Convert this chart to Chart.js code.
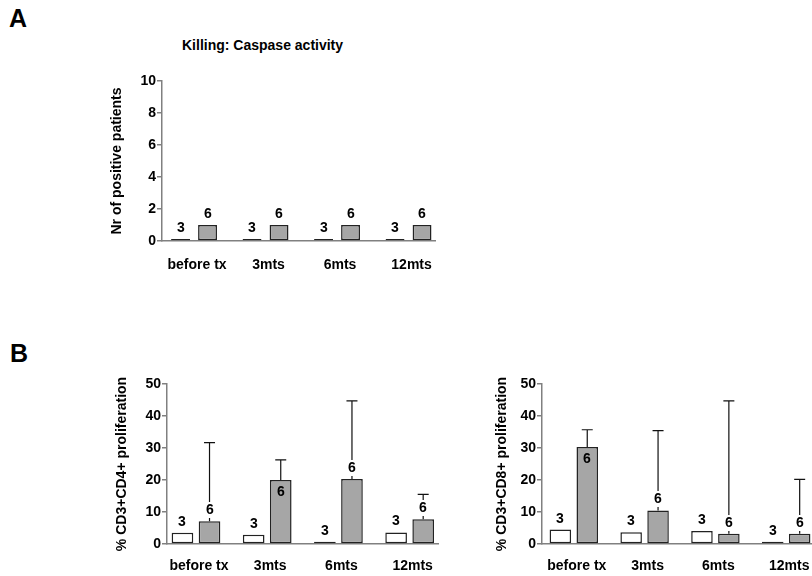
<!DOCTYPE html>
<html>
<head>
<meta charset="utf-8">
<script src="https://cdn.jsdelivr.net/npm/chart.js@4"></script>
<style>
  body { margin: 0; background: #fff; width: 812px; height: 576px; overflow: hidden; position: relative;
         font-family: "Liberation Sans", Arial, sans-serif; }
  canvas { position: absolute; }
  .panel { position: absolute; font-weight: bold; font-size: 25px; line-height: 25px; }
  .title { position: absolute; font-weight: bold; font-size: 14px; line-height: 14px; white-space: nowrap; }
</style>
</head>
<body>
<div class="panel" style="left:9px; top:6px;">A</div>
<div class="panel" style="left:10px; top:341px;">B</div>
<div class="title" style="left:182px; top:38px;">Killing: Caspase activity</div>
<canvas id="chartA" width="460" height="290" style="left:0; top:0;"></canvas>
<canvas id="chartB1" width="450" height="276" style="left:0; top:300px;"></canvas>
<canvas id="chartB2" width="362" height="276" style="left:450px; top:300px;"></canvas>
<script>
// time points
const categories = ['before tx', '3mts', '6mts', '12mts'];

// A: killing (caspase activity), number of positive patients
const killGroup1 = [0, 0, 0, 0];
const killGroup2 = [1, 1, 1, 1];
const killN1 = [3, 3, 3, 3];
const killN2 = [6, 6, 6, 6];

// B: % CD3+CD4+ proliferation
const cd4Group1 = [3.5, 2.9, 0.7, 3.6];
const cd4Group2 = [7.1, 20.0, 20.3, 7.7];
const cd4Group2Sd = [24.6, 6.3, 24.4, 7.8];
const cd4N1 = [3, 3, 3, 3];
const cd4N2 = [6, 6, 6, 6];

// B: % CD3+CD8+ proliferation
const cd8Group1 = [4.5, 3.7, 4.1, 0.7];
const cd8Group2 = [30.3, 10.5, 3.2, 3.2];
const cd8Group2Sd = [5.4, 24.9, 41.5, 17.0];
const cd8N1 = [3, 3, 3, 3];
const cd8N2 = [6, 6, 6, 6];

const FONT = '"Liberation Sans", Arial, sans-serif';
const AXIS = '#808080';
Chart.defaults.font.family = FONT;
Chart.defaults.font.weight = 'bold';
Chart.defaults.color = '#000';

// error bars (upward only) and n labels
const barMarks = {
  id: 'barMarks',
  afterDatasetsDraw(chart) {
    const ctx = chart.ctx;
    const yScale = chart.scales.y;
    chart.data.datasets.forEach((ds, di) => {
      const meta = chart.getDatasetMeta(di);
      meta.data.forEach((bar, i) => {
        const v = ds.data[i].y;
        const sd = ds.sd ? ds.sd[i] : null;
        ctx.save();
        if (sd != null) {
          const yTop = yScale.getPixelForValue(v + sd);
          ctx.strokeStyle = '#111';
          ctx.lineWidth = 1.2;
          ctx.beginPath();
          ctx.moveTo(bar.x, bar.y);
          ctx.lineTo(bar.x, yTop);
          ctx.moveTo(bar.x - 5.5, yTop);
          ctx.lineTo(bar.x + 5.5, yTop);
          ctx.stroke();
        }
        // short error bar on a tall bar: label goes inside the bar
        const inside = sd != null && sd < 7 && v > 15;
        const ty = Math.round(inside ? bar.y + 12 : bar.y - 11);
        ctx.font = 'bold 14px ' + FONT;
        ctx.textAlign = 'center';
        ctx.textBaseline = 'middle';
        if (!inside) {
          ctx.fillStyle = '#fff';
          ctx.fillRect(bar.x - 5, ty - 8, 10, 16);
        }
        ctx.fillStyle = '#000';
        ctx.fillText(String(ds.n[i]), Math.round(bar.x), ty);
        ctx.restore();
      });
    });
  }
};

function points(values) {
  return values.map((v, i) => ({ x: i, y: v }));
}

function makeChart(id, cfg) {
  const ctx = document.getElementById(id).getContext('2d');
  return new Chart(ctx, {
    type: 'bar',
    data: {
      datasets: [
        {
          data: points(cfg.group1),
          n: cfg.n1,
          backgroundColor: '#ffffff',
          borderColor: '#222',
          borderWidth: 1.5,
          borderSkipped: false,
          minBarLength: cfg.minBar || 0,
          categoryPercentage: cfg.catPct,
          barPercentage: cfg.barPct
        },
        {
          data: points(cfg.group2),
          n: cfg.n2,
          sd: cfg.sd,
          backgroundColor: '#a6a6a6',
          borderColor: '#222',
          borderWidth: 1.5,
          borderSkipped: false,
          categoryPercentage: cfg.catPct,
          barPercentage: cfg.barPct
        }
      ]
    },
    options: {
      responsive: false,
      animation: false,
      layout: { padding: cfg.padding },
      plugins: { legend: { display: false }, tooltip: { enabled: false } },
      scales: {
        x: {
          type: 'linear',
          offset: false,
          min: cfg.xMin,
          max: cfg.xMax,
          grid: { display: false },
          border: { color: AXIS, width: 1.5 },
          ticks: {
            padding: cfg.xPad,
            labelOffset: 3,
            maxRotation: 0,
            autoSkip: false,
            font: { size: 14, weight: 'bold' },
            callback: v => categories[v]
          },
          afterBuildTicks: s => { s.ticks = categories.map((c, i) => ({ value: i })); },
          afterFit: s => { s.height = cfg.xHeight; }
        },
        y: {
          min: 0,
          max: cfg.yMax,
          grid: { drawOnChartArea: false, drawTicks: true, tickLength: 5, color: AXIS, lineWidth: 1.5 },
          border: { color: AXIS, width: 1.5 },
          ticks: { stepSize: cfg.yStep, padding: 1, color: '#000', font: { size: 14, weight: 'bold' } },
          title: {
            display: true,
            text: cfg.yTitle,
            font: { size: 14, weight: 'bold' },
            padding: { top: cfg.titlePad, bottom: 0 }
          },
          afterFit: s => { s.width = cfg.yWidth; }
        }
      }
    },
    plugins: [barMarks]
  });
}

makeChart('chartA', {
  group1: killGroup1, group2: killGroup2, n1: killN1, n2: killN2, sd: null,
  minBar: 2, catPct: 0.755, barPct: 0.7,
  padding: { left: 100, top: 81, right: 25, bottom: 0 },
  xMin: -0.448, xMax: 3.37, xPad: 8, xHeight: 49,
  yMax: 10, yStep: 2, yTitle: 'Nr of positive patients', titlePad: 8.6, yWidth: 62
});

makeChart('chartB1', {
  group1: cd4Group1, group2: cd4Group2, n1: cd4N1, n2: cd4N2, sd: cd4Group2Sd,
  catPct: 0.76, barPct: 0.8,
  padding: { left: 100, top: 84, right: 12, bottom: 0 },
  xMin: -0.407, xMax: 3.398, xPad: 5.5, xHeight: 32,
  yMax: 50, yStep: 10, yTitle: '% CD3+CD4+ proliferation', titlePad: 13.3, yWidth: 67
});

makeChart('chartB2', {
  group1: cd8Group1, group2: cd8Group2, n1: cd8N1, n2: cd8N2, sd: cd8Group2Sd,
  catPct: 0.76, barPct: 0.8,
  padding: { left: 30, top: 84, right: 0, bottom: 0 },
  xMin: -0.449, xMax: 3.364, xPad: 5.5, xHeight: 32,
  yMax: 50, yStep: 10, yTitle: '% CD3+CD8+ proliferation', titlePad: 13.3, yWidth: 62
});
</script>
</body>
</html>
